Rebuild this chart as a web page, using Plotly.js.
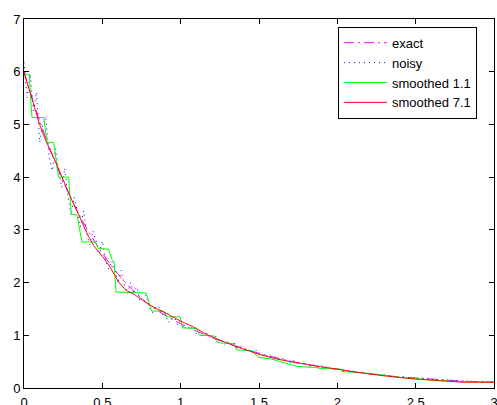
<!DOCTYPE html>
<html>
<head>
<meta charset="utf-8">
<script src="https://cdn.plot.ly/plotly-3.0.1.min.js"></script>
<style>html,body{margin:0;padding:0;background:#fff;}#chart{width:497px;height:405px;}</style>
</head>
<body>
<div id="chart"></div>
<script>
// ---- data ----
const exactX = [0,0.1,0.2,0.3,0.4,0.5,0.6,0.7,0.8,0.9,1.0,1.1,1.2,1.3,1.4,1.5,1.6,1.7,1.8,1.9,2.0,2.1,2.2,2.3,2.4,2.5,2.6,2.7,2.8,2.9,3.0];
const exactY = [6.00,5.07,4.28,3.60,3.03,2.56,2.16,1.84,1.58,1.38,1.22,1.08,0.96,0.85,0.75,0.66,0.58,0.51,0.45,0.40,0.35,0.31,0.27,0.24,0.21,0.19,0.17,0.15,0.13,0.12,0.11];

const noisyX = [0,0.02,0.04,0.06,0.08,0.10,0.12,0.14,0.16,0.18,0.20,0.22,0.24,0.26,0.28,0.30,0.32,0.34,0.36,0.38,
0.40,0.42,0.44,0.46,0.48,0.50,0.52,0.54,0.56,0.58,0.60,0.62,0.64,0.66,0.68,0.70,0.72,0.74,0.76,0.78,
0.80,0.82,0.84,0.86,0.88,0.90,0.92,0.94,0.96,0.98,1.00,1.02,1.04,1.06,1.08,1.10,1.12,1.14,1.16,1.18,
1.20,1.22,1.24,1.26,1.28,1.30,1.32,1.34,1.36,1.38,1.40,1.42,1.44,1.46,1.48,1.50,1.52,1.54,1.56,1.58,
1.60,1.62,1.64,1.66,1.68,1.70,1.72,1.74,1.76,1.78,1.80,1.82,1.84,1.86,1.88,1.90,1.92,1.94,1.96,1.98,
2.00,2.02,2.04,2.06,2.08,2.10,2.12,2.14,2.16,2.18,2.20,2.22,2.24,2.26,2.28,2.30,2.32,2.34,2.36,2.38,
2.40,2.42,2.44,2.46,2.48,2.50,2.52,2.54,2.56,2.58,2.60,2.62,2.64,2.66,2.68,2.70,2.72,2.74,2.76,2.78,
2.80,2.82,2.84,2.86,2.88,2.90,2.92,2.94,2.96,2.98,3.00];
const noisyY = [6.18,5.51,5.95,5.26,5.61,4.66,5.00,5.12,4.40,4.12,4.54,4.18,3.80,4.17,3.66,3.28,3.62,3.36,3.06,3.36,
2.94,2.72,2.98,2.79,2.54,2.79,2.43,2.26,2.41,2.26,1.99,2.23,1.97,1.79,2.00,1.82,1.92,1.64,1.73,1.76,
1.52,1.43,1.53,1.55,1.38,1.44,1.24,1.32,1.34,1.20,1.31,1.12,1.18,1.11,1.18,1.03,1.09,0.96,1.06,0.98,
0.92,1.00,0.89,0.91,0.82,0.89,0.81,0.87,0.75,0.78,0.78,0.69,0.73,0.68,0.72,0.63,0.65,0.59,0.64,0.59,
0.60,0.54,0.59,0.52,0.53,0.47,0.53,0.47,0.50,0.44,0.46,0.41,0.45,0.42,0.38,0.42,0.38,0.41,0.35,0.37,
0.34,0.36,0.32,0.34,0.30,0.32,0.29,0.31,0.28,0.29,0.25,0.27,0.25,0.27,0.23,0.25,0.22,0.24,0.21,0.21,
0.20,0.21,0.20,0.20,0.18,0.20,0.18,0.19,0.17,0.18,0.16,0.17,0.16,0.17,0.15,0.15,0.14,0.15,0.14,0.14,
0.13,0.14,0.12,0.13,0.12,0.12,0.12,0.11,0.12,0.11,0.11];

const smooth1X = [0,0.034,0.04,0.051,0.126,0.147,0.19,0.205,0.22,0.285,0.302,0.338,0.37,0.455,0.475,0.54,0.562,0.575,0.587,0.78,
0.815,0.89,0.91,0.995,1.013,1.10,1.12,1.21,1.234,1.34,1.357,1.45,1.50,1.58,1.65,1.72,1.74,1.86,1.90,2.02,
2.03,2.10,2.19,2.26,2.35,2.46,2.53,2.6,2.7,2.8,2.9,3.0];
const smooth1Y = [5.95,5.95,5.6,5.13,5.13,4.66,4.66,4.3,4.0,4.0,3.30,3.28,2.77,2.77,2.65,2.63,2.44,2.40,1.82,1.80,
1.46,1.46,1.35,1.35,1.14,1.13,1.00,0.99,0.86,0.84,0.72,0.71,0.58,0.55,0.49,0.44,0.41,0.39,0.37,0.36,
0.31,0.30,0.28,0.26,0.22,0.18,0.17,0.15,0.13,0.12,0.11,0.11];

const smooth7X = [0,0.05,0.10,0.15,0.20,0.25,0.30,0.35,0.40,0.45,0.50,0.55,0.60,0.65,0.70,0.75,0.80,0.85,0.90,0.95,
1.00,1.05,1.10,1.15,1.20,1.25,1.30,1.35,1.40,1.45,1.5,1.6,1.7,1.8,1.9,2.0,2.1,2.2,2.3,2.4,2.5,2.6,2.7,2.8,2.9,3.0];
const smooth7Y = [5.98,5.50,5.00,4.62,4.30,3.95,3.60,3.28,2.95,2.68,2.50,2.29,2.03,1.86,1.78,1.68,1.58,1.50,1.43,1.35,
1.27,1.20,1.13,1.04,0.97,0.91,0.85,0.79,0.74,0.69,0.64,0.56,0.50,0.45,0.40,0.36,0.31,0.27,0.23,0.20,0.17,0.15,0.13,0.11,0.11,0.11];

const seriesNames = ['exact','noisy','smoothed 1.1','smoothed 7.1'];
const xTicks = [0,0.5,1,1.5,2,2.5,3];
const xTickText = ['0','0.5','1','1.5','2','2.5','3'];
const yTicks = [0,1,2,3,4,5,6,7];
const yTickText = ['0','1','2','3','4','5','6','7'];

const font = {family:'Liberation Sans, Arial, Helvetica, sans-serif', size:13, color:'#000'};

const traces = [
  {x:exactX, y:exactY, name:seriesNames[0], mode:'lines', line:{color:'#ff00ff', width:1, dash:'10px,4px,2px,4px', shape:'spline'}},
  {x:noisyX, y:noisyY, name:seriesNames[1], mode:'lines', line:{color:'#0000ff', width:1, dash:'1px,4px'}},
  {x:smooth1X, y:smooth1Y, name:seriesNames[2], mode:'lines', line:{color:'#00ff00', width:1}},
  {x:smooth7X, y:smooth7Y, name:seriesNames[3], mode:'lines', line:{color:'#ff0000', width:1, shape:'spline', smoothing:0.6}}
];

const axisCommon = {
  showgrid:false, zeroline:false, showline:true, linecolor:'#000', linewidth:1,
  mirror:'ticks', ticks:'inside', ticklen:5, tickcolor:'#000', tickwidth:1,
  tickfont:font, fixedrange:true, ticklabeloverflow:'allow'
};

const layout = {
  width:497, height:405,
  margin:{l:24, r:3, t:19, b:17, pad:0},
  paper_bgcolor:'#fff', plot_bgcolor:'#fff',
  font:font,
  showlegend:true,
  legend:{x:0.668, y:0.979, xanchor:'left', yanchor:'top', bgcolor:'#fff', bordercolor:'#000', borderwidth:1,
          font:font, tracegroupgap:0, itemwidth:43},
  xaxis:Object.assign({}, axisCommon, {range:[0,3], tickvals:xTicks, ticktext:xTickText, ticklabelstandoff:2}),
  yaxis:Object.assign({}, axisCommon, {range:[0,7], tickvals:yTicks, ticktext:yTickText})
};

Plotly.newPlot('chart', traces, layout, {displayModeBar:false, staticPlot:true});
</script>
</body>
</html>
